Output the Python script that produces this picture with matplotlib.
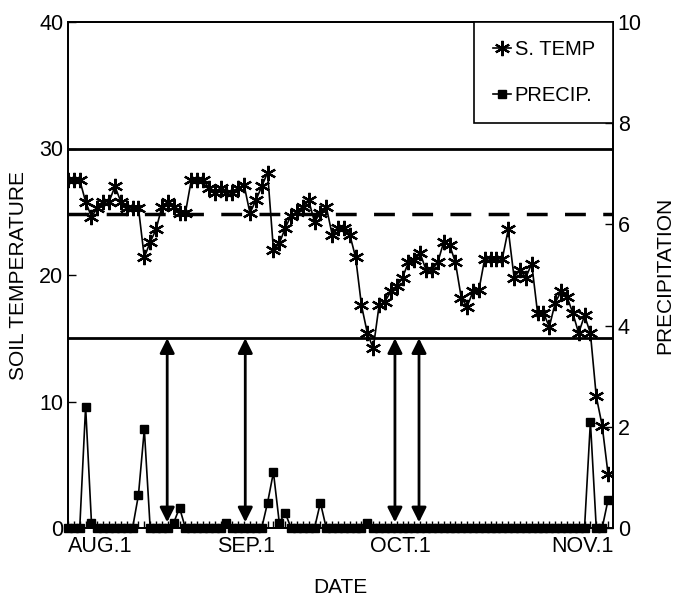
import matplotlib
matplotlib.use("Agg")
import matplotlib.pyplot as plt
import numpy as np

plt.rcParams['font.family'] = ['Liberation Sans', 'DejaVu Sans']

# ---- data (daily, Aug 1 -> Nov 1) ----
soil_temp = [27.5, 27.5, 27.5, 25.8, 24.6, 25.3, 25.8, 25.8, 27.0, 25.8,
             25.3, 25.3, 25.3, 21.4, 22.6, 23.6, 25.4, 25.8, 25.4, 24.9,
             24.9, 27.5, 27.5, 27.5, 26.9, 26.5, 26.9, 26.5, 26.5, 26.9,
             27.1, 24.9, 25.9, 27.0, 28.1, 22.0, 22.5, 23.7, 24.7, 25.0,
             25.4, 25.9, 24.2, 24.9, 25.4, 23.2, 23.7, 23.7, 23.2, 21.4,
             17.6, 15.4, 14.2, 17.6, 17.9, 18.7, 19.1, 19.8, 21.0, 21.2,
             21.7, 20.4, 20.4, 21.0, 22.6, 22.4, 21.0, 18.2, 17.5, 18.7,
             18.8, 21.3, 21.3, 21.3, 21.3, 23.6, 19.8, 20.4, 19.8, 20.9,
             17.0, 17.0, 15.9, 17.8, 18.7, 18.3, 17.0, 15.4, 16.8, 15.4,
             10.4, 8.1, 4.3]
precip = [0, 0, 0, 2.4, 0.1, 0, 0, 0, 0, 0,
          0, 0, 0.65, 1.95, 0, 0, 0, 0, 0.1, 0.4,
          0, 0, 0, 0, 0, 0, 0, 0.1, 0, 0,
          0, 0, 0, 0, 0.5, 1.1, 0.1, 0.3, 0, 0,
          0, 0, 0, 0.5, 0, 0, 0, 0, 0, 0,
          0, 0.1, 0, 0, 0, 0, 0, 0, 0, 0,
          0, 0, 0, 0, 0, 0, 0, 0, 0, 0,
          0, 0, 0, 0, 0, 0, 0, 0, 0, 0,
          0, 0, 0, 0, 0, 0, 0, 0, 0, 2.1,
          0, 0, 0.55]
days = np.arange(len(soil_temp))
date_labels = ['AUG.1', 'SEP.1', 'OCT.1', 'NOV.1']
date_label_pos = [5.5, 30.3, 56.7, 87.6]
upper_limit = 30
lower_limit = 15
mean_line = 24.8
arrow_days = [16.9, 30.2, 55.7, 59.8]

fig = plt.figure(figsize=(6.76, 6.01), dpi=100)
ax = fig.add_axes([68/676, 1-528/601, (613-68)/676, (528-22)/601])
ax2 = ax.twinx()

ax.set_xlim(0, 92.85)
ax.set_ylim(0, 40)
ax2.set_ylim(0, 10)

# reference lines
ax.axhline(upper_limit, color='black', lw=2)
ax.axhline(lower_limit, color='black', lw=2)
ax.axhline(mean_line, color='black', lw=2.5, dashes=(6, 5))

# arrows
for d in arrow_days:
    ax.annotate('', xy=(d, 0.45), xytext=(d, lower_limit),
                arrowprops=dict(arrowstyle='<|-|>', lw=2, color='black',
                                mutation_scale=22, shrinkA=0, shrinkB=0))

# temperature
h1, = ax.plot(days, soil_temp, color='black', lw=1.2, marker=(6, 2, 0),
              markersize=11, markeredgewidth=1.6, label='S. TEMP')
# precipitation
h2, = ax2.plot(days, precip, color='black', lw=1.2, marker='s',
               markersize=5.5, label='PRECIP.', clip_on=False)

ax.set_xticks(date_label_pos)
ax.set_xticklabels(date_labels)
ax.set_xticks(days, minor=True)
ax.tick_params(axis='x', which='major', length=0, labelsize=15.5, pad=6)
ax.tick_params(axis='x', which='minor', direction='in', length=5, width=1)
ax.set_yticks([0, 10, 20, 30, 40])
ax.tick_params(axis='y', direction='in', length=6, width=1, labelsize=15.5)
ax2.set_yticks([0, 2, 4, 6, 8, 10])
ax2.tick_params(axis='y', direction='in', length=6, width=1, labelsize=15.5)

ax.set_xlabel('DATE', fontsize=15, labelpad=15)
ax.set_ylabel('SOIL TEMPERATURE', fontsize=15, labelpad=8)
ax2.set_ylabel('PRECIPITATION', fontsize=15, labelpad=10)

for a in (ax, ax2):
    for s in a.spines.values():
        s.set_linewidth(1.3)

leg = ax2.legend([h1, h2], ['S. TEMP', 'PRECIP.'], loc='upper right',
                 bbox_to_anchor=(1, 1), borderaxespad=0, fancybox=False,
                 edgecolor='black', fontsize=14.5, handlelength=0.9,
                 handletextpad=0.2, labelspacing=1.35, borderpad=0.9,
                 framealpha=1)
leg.get_frame().set_linewidth(1.2)

fig.savefig('out.png', dpi=100)
